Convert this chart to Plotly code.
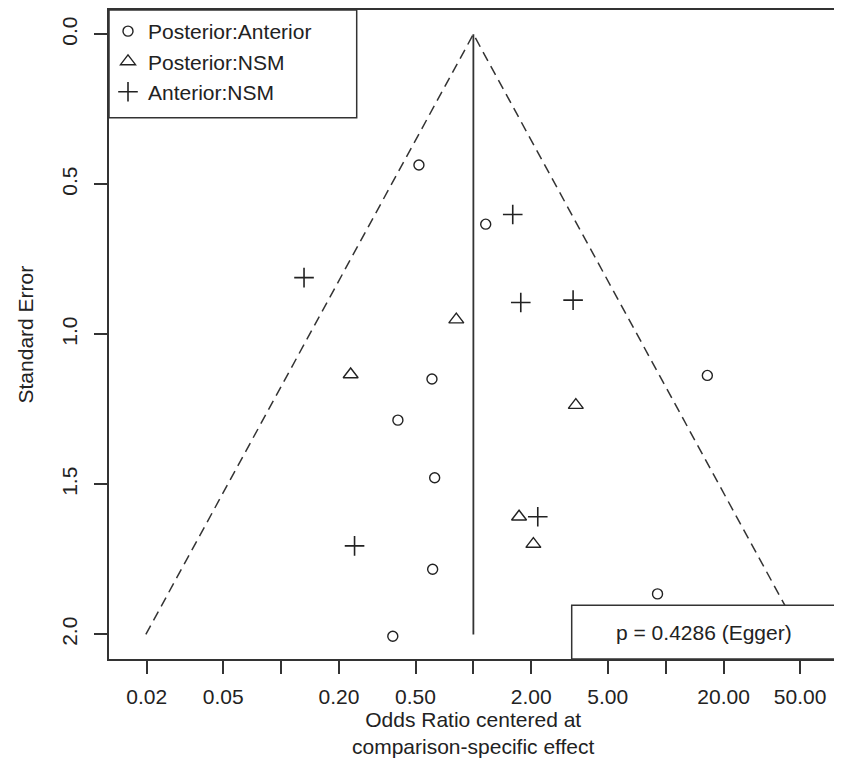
import plotly.graph_objects as go

# ---- data ----
pa_or = [0.521, 1.159, 0.609, 0.405, 0.629, 0.614, 0.381, 16.47, 9.07]
pa_se = [0.436, 0.633, 1.149, 1.286, 1.478, 1.783, 2.006, 1.137, 1.865]

pn_or = [0.815, 0.230, 3.41, 1.728, 2.051]
pn_se = [0.951, 1.134, 1.236, 1.608, 1.699]

an_or = [1.602, 0.1316, 1.764, 3.30, 2.162, 0.241]
an_se = [0.601, 0.811, 0.894, 0.886, 1.608, 1.705]

series_names = ["Posterior:Anterior", "Posterior:NSM", "Anterior:NSM"]

funnel_x = [0.0198, 1.0, 50.4]
funnel_y = [2.0, 0.0, 2.0]
center_x = [1.0, 1.0]
center_y = [0.0, 2.0]

x_tickvals = [0.02, 0.05, 0.1, 0.2, 0.5, 1, 2, 5, 10, 20, 50]
x_ticktext = ["0.02", "0.05", "", "0.20", "0.50", "", "2.00", "5.00", "", "20.00", "50.00"]
y_tickvals = [0.0, 0.5, 1.0, 1.5, 2.0]
y_ticktext = ["0.0", "0.5", "1.0", "1.5", "2.0"]

egger_text = "p = 0.4286 (Egger)"
x_title = "Odds Ratio centered at<br>comparison-specific effect"
y_title = "Standard Error"

# ---- styling ----
FONT = "Liberation Sans, Arial, sans-serif"
TXT = "#222222"
LN = "#333333"
FS = 21

fig = go.Figure()

fig.add_trace(go.Scatter(x=funnel_x, y=funnel_y, mode="lines",
                         line=dict(color=LN, width=1.5, dash="10px,6px"),
                         showlegend=False, hoverinfo="skip"))
fig.add_trace(go.Scatter(x=center_x, y=center_y, mode="lines",
                         line=dict(color=LN, width=1.8),
                         showlegend=False, hoverinfo="skip"))

fig.add_trace(go.Scatter(x=pa_or, y=pa_se, mode="markers", name=series_names[0],
                         marker=dict(symbol="circle-open", size=10, color=TXT,
                                     line=dict(width=1.4))))
fig.add_trace(go.Scatter(x=pn_or, y=pn_se, mode="markers", name=series_names[1],
                         marker=dict(symbol="triangle-up-open", size=13, color=TXT,
                                     line=dict(width=1.4))))
fig.add_trace(go.Scatter(x=an_or, y=an_se, mode="markers", name=series_names[2],
                         marker=dict(symbol="cross-thin-open", size=14, color=TXT,
                                     line=dict(width=1.6))))

# page has an 8px body margin; positions below are given in page pixels
OFF = 8
W, H = 834, 757
ML, MR, MT, MB = 101, 5, 0, 106
pw = W - ML - MR
ph = H - MT - MB

def px_x(p):
    return (p - OFF - ML) / pw

def px_y(p):
    return (H - MB - (p - OFF)) / ph

shapes = [
    # legend box
    dict(type="rect", xref="paper", yref="paper",
         x0=0, x1=px_x(356.7), y0=px_y(116), y1=1,
         fillcolor="rgba(0,0,0,0)", line=dict(color=LN, width=1.5), layer="above"),
    # Egger box
    dict(type="rect", xref="paper", yref="paper",
         x0=px_x(571.7), x1=1, y0=0, y1=px_y(605),
         fillcolor="white", line=dict(color=LN, width=1.5), layer="above"),
]

annotations = [
    dict(text=egger_text, xref="paper", yref="paper",
         x=(px_x(571.7) + 1) / 2, y=px_y(632), showarrow=False,
         xanchor="center", yanchor="middle", font=dict(size=FS, color=TXT, family=FONT)),
    dict(text=x_title, xref="paper", yref="paper",
         x=px_x(473), y=px_y(733), showarrow=False,
         xanchor="center", yanchor="middle", font=dict(size=FS, color=TXT, family=FONT)),
    dict(text=y_title, xref="paper", yref="paper",
         x=px_x(25), y=0.5, showarrow=False, textangle=-90,
         xanchor="center", yanchor="middle", font=dict(size=FS, color=TXT, family=FONT)),
]

fig.update_layout(
    width=W, height=H, autosize=False,
    margin=dict(l=ML, r=MR, t=MT, b=MB, pad=0),
    paper_bgcolor="white", plot_bgcolor="white",
    font=dict(family=FONT, size=FS, color=TXT),
    shapes=shapes, annotations=annotations,
    legend=dict(x=px_x(108), y=px_y(9), xanchor="left", yanchor="top",
                bgcolor="rgba(0,0,0,0)", borderwidth=0,
                font=dict(size=FS, color=TXT, family=FONT),
                tracegroupgap=0, itemsizing="trace"),
    xaxis=dict(type="log", range=[-1.895, 1.891],
               tickmode="array", tickvals=x_tickvals, ticktext=x_ticktext,
               ticks="outside", ticklen=13, tickwidth=1.5, tickcolor=LN,
               ticklabelstandoff=5,
               showline=True, mirror=True, linecolor=LN, linewidth=1.5,
               showgrid=False, zeroline=False,
               tickfont=dict(size=FS, color=TXT, family=FONT)),
    yaxis=dict(range=[2.082, -0.0807],
               tickmode="array", tickvals=y_tickvals, ticktext=y_ticktext,
               tickangle=-90,
               ticks="outside", ticklen=13, tickwidth=1.5, tickcolor=LN,
               ticklabelstandoff=9,
               showline=True, mirror=True, linecolor=LN, linewidth=1.5,
               showgrid=False, zeroline=False,
               tickfont=dict(size=FS, color=TXT, family=FONT)),
)

fig.write_html("out.html")
